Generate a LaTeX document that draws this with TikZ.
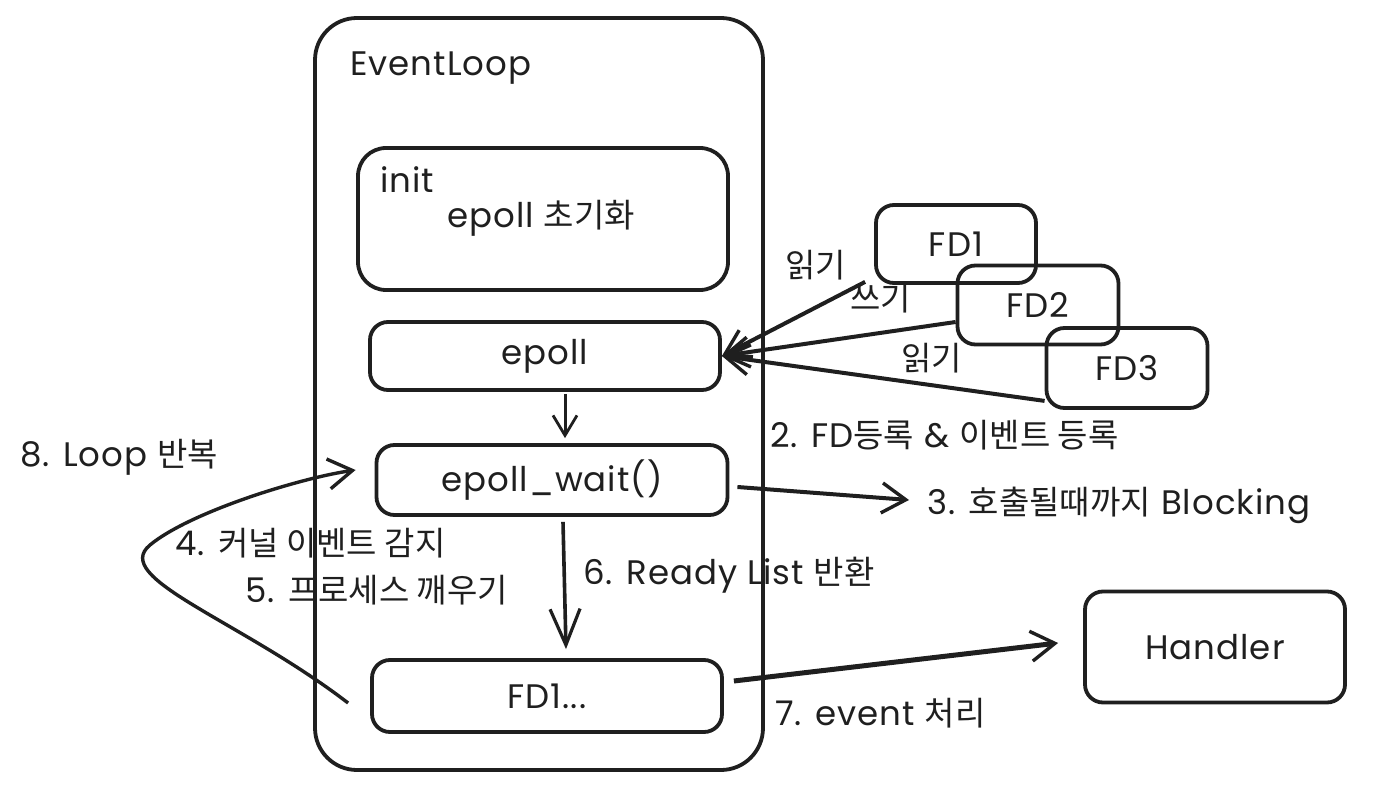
\documentclass[tikz,border=0pt]{standalone}
\usepackage{fontspec}
\setmainfont{Poppins}[LetterSpace=3]
\newfontfamily\krfont{Noto Sans CJK KR}[Scale=0.97]
\newcommand\hk[1]{{\krfont #1}}
\usetikzlibrary{arrows.meta}
\begin{document}
\begin{tikzpicture}[x=1pt,y=-1pt,
  box/.style={draw=black!88, line width=3.8pt, rounded corners=18pt},
  lbl/.style={font=\fontsize{34}{38}\selectfont, text=black!88, inner sep=0pt},
  conn/.style={draw=black!88, line width=4pt, -{Straight Barb[length=24pt,width=30pt,line width=3.4pt]}},
]
\useasboundingbox (0,0) rectangle (1381,791);
% container
\draw[box, rounded corners=42pt] (315,18) rectangle (763,770);
\node[lbl, anchor=west] (title) at (350,68) {EventLoop};
% init
\draw[box, rounded corners=28pt] (358,148) rectangle (728,290);
\node[lbl, anchor=west] (init) at (380,180) {init};
\node[lbl] (initdesc) at (541,218) {epoll \hk{초기화}};
% boxes
\node[box, minimum width=350pt, minimum height=68pt, lbl] (epoll) at (545,356) {epoll};
\node[box, minimum width=351pt, minimum height=70pt, lbl] (wait) at (552,480) {epoll\_wait()};
\node[box, minimum width=350pt, minimum height=72pt, lbl] (fdl) at (547,696) {FD1...};
\node[box, minimum width=260pt, minimum height=111pt, lbl] (handler) at (1215,647) {Handler};
% FD boxes
\node[box, minimum width=160pt, minimum height=78pt, lbl] (fd1) at (956,244) {FD1};
\node[box, minimum width=161pt, minimum height=79pt, lbl] (fd2) at (1038,305) {FD2};
\node[box, minimum width=161pt, minimum height=80pt, lbl] (fd3) at (1127,368) {FD3};
% FD arrows (explicit pt offsets are canvas: +y is up)
\draw[conn] (fd1.south west) ++(-9pt,3pt) coordinate (f1s) -- (epoll.east);
\draw[conn] (fd2.west) ++(0,-17pt) coordinate (f2s) -- (epoll.east);
\draw[conn] (fd3.south west) ++(0pt,9pt) coordinate (f3s) -- (epoll.east);
\node[lbl, anchor=west] (r1) at (785,265) {\hk{읽기}};
\node[lbl, anchor=west] (w2) at (850,298) {\hk{쓰기}};
\node[lbl, anchor=west] (r3) at (901,358) {\hk{읽기}};
\node[lbl, anchor=west] (s2) at (770,435) {2. FD\hk{등록} \& \hk{이벤트 등록}};
% epoll -> wait
\draw[conn, line width=3pt, -{Straight Barb[length=20pt,width=24pt,line width=2.8pt]}] (epoll.south) ++(20pt,-2pt) -- ([xshift=13pt,yshift=5pt]wait.north);
% blocking
\node[lbl, anchor=west] (s3) at (927,505) {3. \hk{호출될때까지} Blocking};
\draw[conn] ([xshift=8pt,yshift=-7pt]wait.east) -- ([xshift=-18pt,yshift=5pt]s3.west);
% wait -> fd list
\draw[conn, line width=3.6pt, -{Straight Barb[length=36pt,width=30pt,line width=3.2pt]}] ([xshift=11pt,yshift=-5pt]wait.south) -- ([xshift=19pt,yshift=9pt]fdl.north);
\node[lbl, anchor=west] (s6) at (583,575) {6. Ready List \hk{반환}};
% handler
\draw[conn, line width=5pt] ([xshift=10pt,yshift=15pt]fdl.east) -- ([xshift=-25pt,yshift=4pt]handler.west);
\node[lbl, anchor=west] (s7) at (775,713) {7. event \hk{처리}};
% loop
\node[lbl, anchor=west] (s4) at (175,543) {4. \hk{커널 이벤트 감지}};
\node[lbl, anchor=west] (s5) at (245,590) {5. \hk{프로세스 깨우기}};
\node[lbl, anchor=west] (s8) at (20,457) {8. Loop \hk{반복}};
\draw[conn, line width=3.4pt] ([xshift=-22pt,yshift=-7pt]fdl.west) .. controls (240,620) and (110,578) .. (150,545) .. controls (190,512) and (300,478) .. ([xshift=-19pt,yshift=10pt]wait.west);
\end{tikzpicture}
\end{document}
